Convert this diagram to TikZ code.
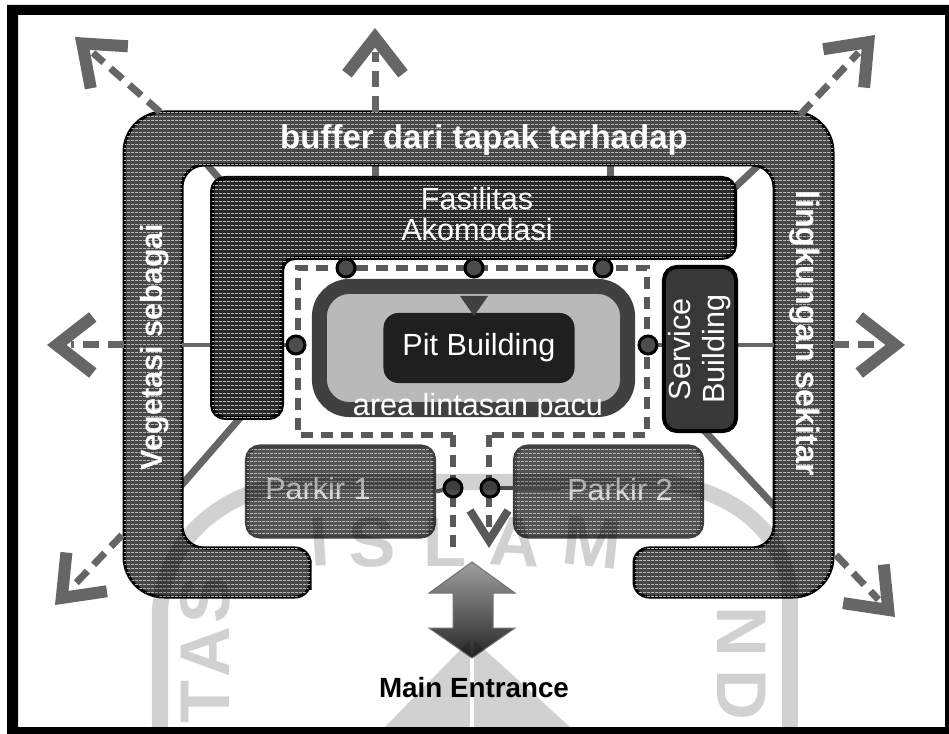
\documentclass[tikz,border=0pt]{standalone}
\usepackage{fontspec}
\setmainfont{Liberation Sans}
\usetikzlibrary{arrows.meta,patterns,calc}
\pgfdeclarepatternformonly{scanlines}{\pgfqpoint{0pt}{0pt}}{\pgfqpoint{1pt}{1pt}}{\pgfqpoint{1pt}{1pt}}{%
  \pgfpathrectangle{\pgfqpoint{0pt}{0pt}}{\pgfqpoint{1pt}{.3pt}}\pgfusepath{fill}}
\definecolor{ringgray}{gray}{0.28}
\definecolor{blockgray}{gray}{0.16}
\definecolor{parkgray}{gray}{0.33}
\definecolor{scangray}{gray}{0.7}
\definecolor{linkgray}{gray}{0.4}
\definecolor{markgray}{gray}{0.82}
\tikzset{
  scanfill/.style={postaction={pattern=scanlines,pattern color=scangray}},
  block/.style={draw=black,line width=.04cm,fill=blockgray,rounded corners=.13cm,inner sep=0pt,text=white,align=center},
  parkblock/.style={block,draw=black!75,fill=parkgray,scanfill,minimum width=1.87cm,minimum height=.9cm,text=white!90!black},
  hubdot/.style={circle,draw=black,line width=.03cm,fill=black!70,minimum size=.18cm,inner sep=0pt},
  laneline/.style={draw=black!65,line width=.06cm,dash pattern=on .12cm off .08cm},
  link/.style={draw=linkgray,line width=.07cm},
  outline/.style={draw=linkgray,line width=.07cm,dash pattern=on .16cm off .09cm},
  outtip/.style={draw=linkgray,line width=.07cm,dash pattern=on 0pt off 1cm,
    -{Straight Barb[length=.36cm,width=.56cm,line width=.12cm]}},
  ringtext/.style={text=white,font=\bfseries\fontsize{9.2}{11}\selectfont},
  boxtext/.style={text=white,inner sep=0pt,font=\fontsize{8.7}{9.7}\selectfont},
  marktext/.style={markgray,inner sep=0pt,font=\bfseries\fontsize{20}{20}\selectfont}
}
\begin{document}
\begin{tikzpicture}[x=.01cm,y=-.01cm]
\useasboundingbox (0,0) rectangle (949,734);
\fill[white] (0,0) rectangle (949,734);
\fill[black,even odd rule] (7,5) rectangle (949,734) (18,15) rectangle (945,727);
% end points on the ring and outside it
\coordinate (tipnw) at (75,37);
\coordinate (tipn) at (375,28);
\coordinate (tipne) at (875,35);
\coordinate (tipw) at (47,345);
\coordinate (tipe) at (905,345);
\coordinate (tipsw) at (55,605);
\coordinate (tipse) at (895,617);
\coordinate (ringnw) at (160,112);
\coordinate (ringn) at (375,112);
\coordinate (ringne) at (800,115);
\coordinate (ringw) at (124,345);
\coordinate (ringe) at (833,345);
\coordinate (ringsw) at (122,535);
\coordinate (ringse) at (836,555);
% links under the blocks
\draw[link] (375,160) -- (375,180);
\draw[link] (610,160) -- (610,180);
\draw[link] (205,162) -- (222,182);
\draw[link] (730,192) -- (762,162);
\draw[link] (240,418) -- (180,487);
\draw[link] (700,426) -- (778,510);
% buffer ring
\draw[draw=black,line width=.03cm,fill=ringgray,scanfill]
  (310,575) [rounded corners=.15cm] -- (310,548) [rounded corners=.22cm] -- (182,548) -- (182,165) -- (774,165) -- (774,548) [rounded corners=.15cm] -- (634,548) -- (634,597)
  [rounded corners=.4cm] -- (833,597) -- (833,112) -- (124,112) -- (124,597) [rounded corners=.15cm] -- (310,597) -- cycle;
\node[ringtext,font=\bfseries\fontsize{9.4}{11}\selectfont] (buffertext) at (484,140) {buffer dari tapak terhadap};
\node[ringtext,rotate=90,font=\bfseries\fontsize{8.7}{11}\selectfont] (vegetasi) at (155,347) {Vegetasi sebagai};
\node[ringtext,rotate=-90] (lingkungan) at (805,333) {lingkungan sekitar};
% outward arrows
\foreach \ringpt/\tippt in {ringnw/tipnw,ringn/tipn,ringne/tipne,ringw/tipw,ringe/tipe,ringsw/tipsw,ringse/tipse}{
  \draw[outline] (\ringpt) -- ($(\tippt)!.24cm!(\ringpt)$);
  \draw[outtip] (\ringpt) -- (\tippt);
}
% hub dots are named first for the lines
\coordinate (hubw) at (296,345);
\coordinate (hube) at (648,345);
\draw[link,line width=.04cm] (182,345) -- (hubw);
\draw[link,line width=.04cm] (hube) -- (774,345);
% accommodation block
\draw[block,scanfill] (212,178) -- (735,178) -- (735,258) -- (282,258) -- (282,418) -- (212,418) -- cycle;
\node[boxtext,align=center] (fasilitas) at (477,214) {Fasilitas\\[-.9pt]Akomodasi};
% lanes
\draw[laneline] (453,435) -- (298,435) -- (298,268) -- (647,268) -- (647,435) -- (489,435);
\draw[laneline] (453,435) -- (453,547);
\draw[laneline,-{Straight Barb[length=.3cm,width=.38cm,line width=.08cm]}] (489,435) -- (489,548);
% track area
\node[block,draw=black!75,line width=.15cm,fill=gray!55!white,minimum width=3.08cm,minimum height=1.23cm,rounded corners=.3cm] (track) at (473.5,348) {};
\node[block,draw=none,fill=black!88,minimum width=1.91cm,minimum height=.7cm,rounded corners=.15cm] (pit) at (479,348) {};
\fill[black!75] (460,296) -- (488,296) -- (474,316) -- cycle;
\node[boxtext] (pittext) at (pit) {Pit Building};
\node[boxtext] (tracktext) at (478,408) {area lintasan pacu};
% service block
\node[block,fill=black!78,minimum width=.72cm,minimum height=1.64cm] (service) at (700,349) {};
\node[boxtext,rotate=90,align=center] (servicetext) at (service) {Service\\Building};
% parking
\node[parkblock] (parkir1) at (340.5,491.5) {};
\node[parkblock] (parkir2) at (608.5,491.5) {};
\draw[link,draw=black!65,line width=.04cm] (parkir1.east) -- (453,488);
\draw[link,draw=black!65,line width=.04cm] (490,488) -- (560,488);
\node[boxtext,text=white!85!black] (parkir1text) at (318,489) {Parkir 1};
\node[boxtext,text=white!85!black] (parkir2text) at (620,490) {Parkir 2};
% junctions
\node[hubdot] (hubn1) at (346,268) {};
\node[hubdot] (hubn2) at (474,268) {};
\node[hubdot] (hubn3) at (603,268) {};
\node[hubdot] (hubwest) at (hubw) {};
\node[hubdot] (hubeast) at (hube) {};
\node[hubdot] (hubs1) at (453,488) {};
\node[hubdot] (hubs2) at (490,488) {};
% entrance
\draw[black!55,top color=gray!75,bottom color=black!85,line width=.01cm]
  (472,562) -- (515,593) -- (493,593) -- (493,628) -- (515,628) -- (472,658) -- (429,628) -- (453,628) -- (453,593) -- (429,593) -- cycle;
\node[font=\bfseries\fontsize{7.9}{9}\selectfont] (entrance) at (474,688) {Main Entrance};
% scan mark behind everything
\begin{scope}[blend mode=multiply]
\draw[markgray,line width=.16cm] (160,727) -- (160,610) .. controls (165,540) and (220,490) .. (300,482) -- (660,482) .. controls (740,490) and (790,540) .. (790,600) -- (790,727);
\fill[markgray] (385,727) -- (470,640) -- (470,727) -- cycle;
\fill[markgray] (474,640) -- (570,727) -- (474,727) -- cycle;
\foreach \letter/\xpos/\ang in {I/320/4,S/372/2,L/445/0,A/515/-3,M/592/-6}
  \node[marktext,rotate=\ang] at (\xpos,542) {\letter};
\foreach \letter/\ypos in {T/702,A/652,S/600}
  \node[marktext,rotate=90] at (205,\ypos) {\letter};
\foreach \letter/\ypos in {N/632,D/695}
  \node[marktext,rotate=-90] at (742,\ypos) {\letter};
\end{scope}
\end{tikzpicture}
\end{document}
